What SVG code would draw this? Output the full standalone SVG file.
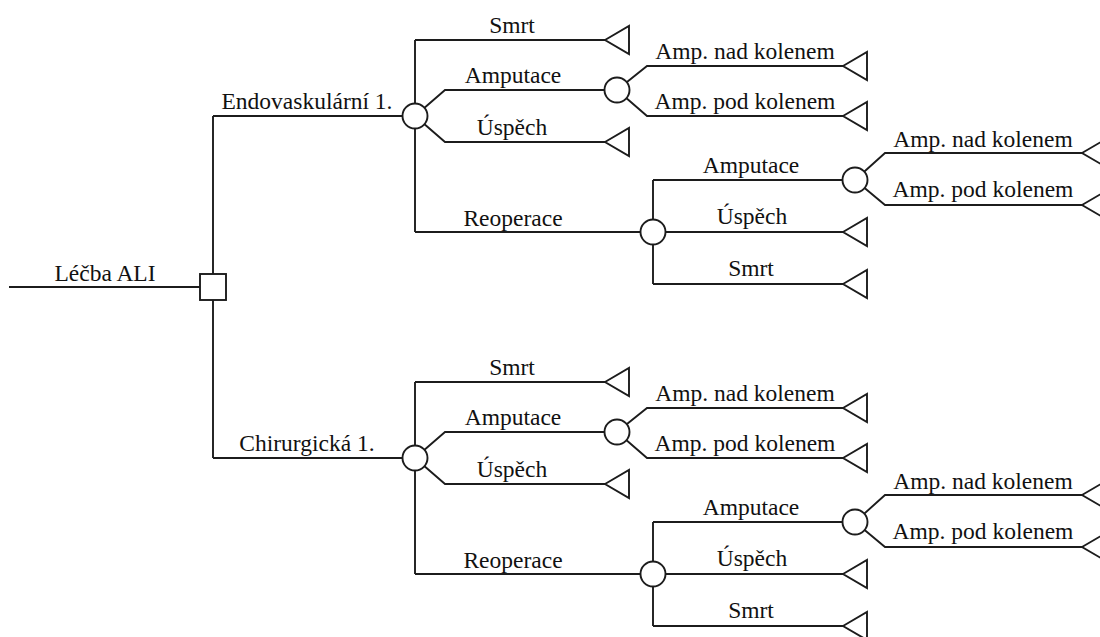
<svg xmlns="http://www.w3.org/2000/svg" width="1100" height="637" viewBox="0 0 1100 637">
<style>
.ln{fill:none;stroke:#1c1c1c;stroke-width:1.9;stroke-linejoin:miter}
.nd{fill:#fff;stroke:#1c1c1c;stroke-width:1.9}
.t{font-family:"Liberation Serif","Times New Roman",serif;font-size:23.5px;fill:#111;text-anchor:middle}
</style>
<defs>
<polygon id="tri" points="0,0 24,-14 24,14"/>
<g id="half">
<g class="ln">
<path d="M213,116 H402.5"/>
<path d="M415,40 V232"/>
<path d="M415,40 H605"/>
<path d="M415,116 L445,90 H605"/>
<path d="M415,116 L445,142 H605"/>
<path d="M415,232 H640.5"/>
<path d="M617,90 L647,66 H843"/>
<path d="M617,90 L647,116 H843"/>
<path d="M653,180 V284"/>
<path d="M653,180 H843"/>
<path d="M653,232 H843"/>
<path d="M653,284 H843"/>
<path d="M855,180 L885,153 H1082"/>
<path d="M855,180 L885,205 H1082"/>
</g>
<g class="t">
<text x="512" y="33">Smrt</text>
<text x="513" y="83">Amputace</text>
<text x="512" y="135">Úspěch</text>
<text x="513" y="226">Reoperace</text>
<text x="745" y="59">Amp. nad kolenem</text>
<text x="745" y="109">Amp. pod kolenem</text>
<text x="751" y="173">Amputace</text>
<text x="752" y="224">Úspěch</text>
<text x="751" y="276">Smrt</text>
<text x="983" y="147">Amp. nad kolenem</text>
<text x="983" y="197">Amp. pod kolenem</text>
</g>
</g>
</defs>
<g id="connectors">
<path class="ln" d="M9,287 H200"/>
<path class="ln" d="M213,116 V458"/>
<text class="t" x="105" y="281">Léčba ALI</text>
<text class="t" x="307" y="109">Endovaskulární 1.</text>
<text class="t" x="307" y="451">Chirurgická 1.</text>
<use href="#half"/>
<use href="#half" y="342"/>
</g>
<g id="decision"><rect class="nd" x="200" y="274" width="26" height="26"/></g>
<g id="chance-endo"><circle class="nd" cx="415" cy="116" r="12.5"/></g>
<g id="chance-endo-amp"><circle class="nd" cx="617" cy="90" r="12.5"/></g>
<g id="chance-endo-reop"><circle class="nd" cx="653" cy="232" r="12.5"/></g>
<g id="chance-endo-reop-amp"><circle class="nd" cx="855" cy="180" r="12.5"/></g>
<g id="chance-chir"><circle class="nd" cx="415" cy="458" r="12.5"/></g>
<g id="chance-chir-amp"><circle class="nd" cx="617" cy="432" r="12.5"/></g>
<g id="chance-chir-reop"><circle class="nd" cx="653" cy="574" r="12.5"/></g>
<g id="chance-chir-reop-amp"><circle class="nd" cx="855" cy="522" r="12.5"/></g>
<g id="terminals" class="nd">
<use href="#tri" x="605" y="40"/>
<use href="#tri" x="605" y="142"/>
<use href="#tri" x="843" y="66"/>
<use href="#tri" x="843" y="116"/>
<use href="#tri" x="843" y="232"/>
<use href="#tri" x="843" y="284"/>
<use href="#tri" x="1082" y="153"/>
<use href="#tri" x="1082" y="205"/>
<use href="#tri" x="605" y="382"/>
<use href="#tri" x="605" y="484"/>
<use href="#tri" x="843" y="408"/>
<use href="#tri" x="843" y="458"/>
<use href="#tri" x="843" y="574"/>
<use href="#tri" x="843" y="626"/>
<use href="#tri" x="1082" y="495"/>
<use href="#tri" x="1082" y="547"/>
</g>
</svg>
